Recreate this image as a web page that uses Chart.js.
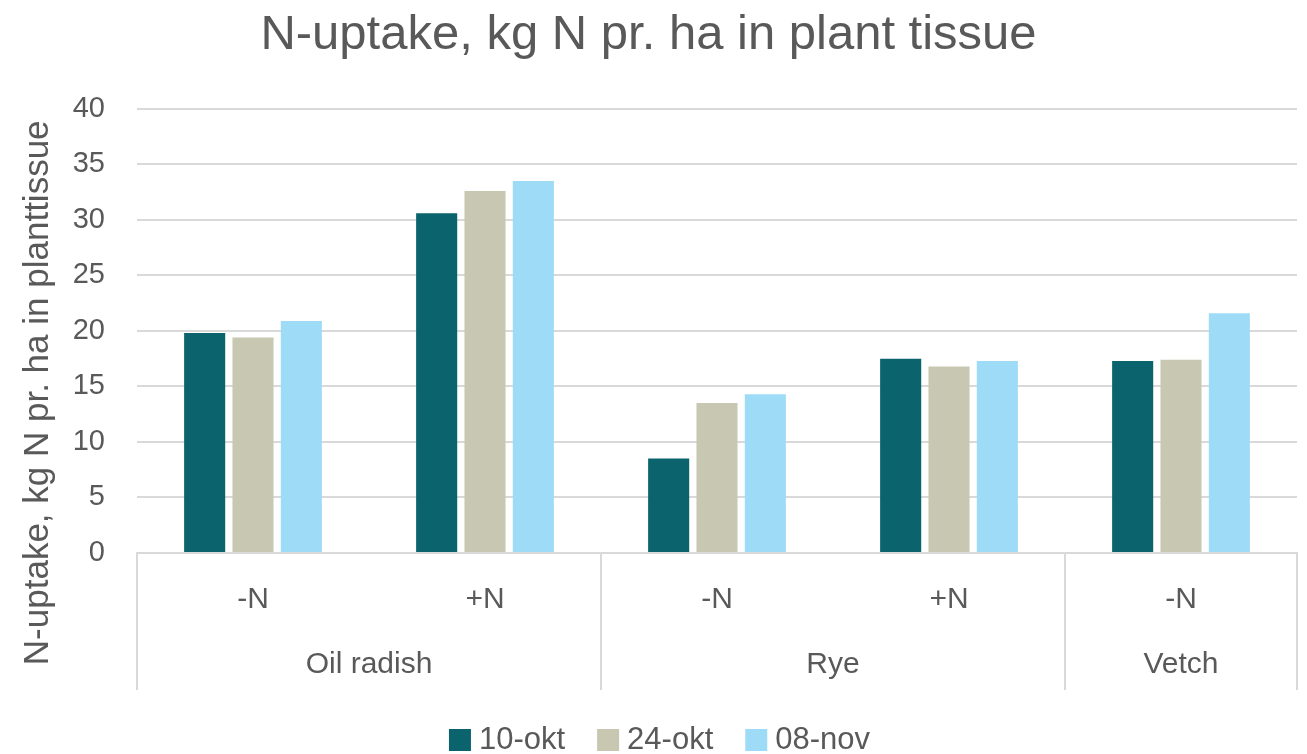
<!DOCTYPE html>
<html>
<head>
<meta charset="utf-8">
<title>N-uptake</title>
<script src="https://cdn.jsdelivr.net/npm/chart.js@4/dist/chart.umd.min.js"></script>
<style>
  html, body { margin: 0; padding: 0; background: #fff; }
  #wrap { width: 1307px; height: 754px; }
</style>
</head>
<body>
<div id="wrap"><canvas id="chart" width="1307" height="754"></canvas></div>
<script>
var categories = ["-N", "+N", "-N", "+N", "-N"];
var groups = ["Oil radish", "Rye", "Vetch"];
var groupSizes = [2, 2, 1];
var seriesNames = ["10-okt", "24-okt", "08-nov"];
var okt10 = [19.8, 30.6, 8.5, 17.5, 17.3];
var okt24 = [19.4, 32.6, 13.5, 16.8, 17.4];
var nov08 = [20.9, 33.5, 14.3, 17.3, 21.6];
var yMin = 0, yMax = 40, yStep = 5;

var FONT = "'Liberation Sans', Arial, sans-serif";
var TEXT = "#595959";
var GRID = "#d9d9d9";
var COLORS = ["#0b636e", "#c8c7b1", "#9edbf7"];

// group labels + separators under the category axis, y title and legend
var groupAxis = {
    id: "groupAxis",
    afterDraw: function (chart) {
        var ctx = chart.ctx;
        var x = chart.scales.x;
        var area = chart.chartArea;
        var w = (x.right - x.left) / categories.length;
        var bottom = area.bottom + 137;

        ctx.save();
        ctx.strokeStyle = GRID;
        ctx.lineWidth = 2;
        ctx.fillStyle = TEXT;
        ctx.textBaseline = "middle";
        var start = 0;
        var edges = [x.getPixelForValue(0) - w / 2];
        for (var g = 0; g < groups.length; g++) {
            var end = start + groupSizes[g] - 1;
            edges.push(x.getPixelForValue(end) + w / 2);
            var cx = (x.getPixelForValue(start) + x.getPixelForValue(end)) / 2;
            ctx.font = "30px " + FONT;
            ctx.textAlign = "center";
            ctx.fillText(groups[g], cx, area.bottom + 112);
            start = end + 1;
        }
        edges.forEach(function (ex) {
            ctx.beginPath();
            ctx.moveTo(ex, area.bottom);
            ctx.lineTo(ex, bottom);
            ctx.stroke();
        });

        // legend, Excel style spacing, centred on the whole canvas
        var ds = chart.data.datasets;
        var box = 22, gap = 8, itemGap = 32, ly = 740;
        ctx.font = "31px " + FONT;
        var total = 0;
        ds.forEach(function (d, i) {
            total += box + gap + ctx.measureText(d.label).width + (i ? itemGap : 0);
        });
        var lx = chart.width / 2 + 6 - total / 2;
        ctx.textAlign = "left";
        ds.forEach(function (d) {
            ctx.fillStyle = d.backgroundColor;
            ctx.fillRect(lx, ly - box / 2, box, box);
            ctx.fillStyle = TEXT;
            ctx.fillText(d.label, lx + box + gap, ly);
            lx += box + gap + ctx.measureText(d.label).width + itemGap;
        });

        // rotated y title, Excel centres it lower than the plot
        ctx.translate(38, area.top + 284);
        ctx.rotate(-Math.PI / 2);
        ctx.fillStyle = TEXT;
        ctx.font = "35px " + FONT;
        ctx.textAlign = "center";
        ctx.fillText("N-uptake, kg N pr. ha in planttissue", 0, 0);
        ctx.restore();
    }
};

new Chart(document.getElementById("chart").getContext("2d"), {
    type: "bar",
    data: {
        labels: categories,
        datasets: [
            { label: seriesNames[0], data: okt10, backgroundColor: COLORS[0] },
            { label: seriesNames[1], data: okt24, backgroundColor: COLORS[1] },
            { label: seriesNames[2], data: nov08, backgroundColor: COLORS[2] }
        ]
    },
    options: {
        responsive: false,
        animation: false,
        categoryPercentage: 0.625,
        barPercentage: 0.85,
        layout: { padding: { left: 0, right: 10, top: 0, bottom: 56 } },
        plugins: {
            title: {
                display: true,
                text: "N-uptake, kg N pr. ha in plant tissue",
                color: TEXT,
                font: { family: FONT, size: 49, weight: "normal" },
                padding: { top: 6, bottom: 44 }
            },
            legend: { display: false },
            tooltip: { enabled: false }
        },
        scales: {
            x: {
                grid: { display: false, drawTicks: false },
                border: { display: true, color: GRID, width: 2 },
                ticks: { color: TEXT, font: { family: FONT, size: 30 }, padding: 29 },
                afterFit: function (scale) { scale.height = 145; }
            },
            y: {
                min: yMin,
                max: yMax,
                grid: { color: GRID, lineWidth: 2, drawTicks: false },
                border: { display: false },
                ticks: { stepSize: yStep, color: TEXT, font: { family: FONT, size: 29 }, padding: 32 },
                afterFit: function (scale) { scale.width = 137; }
            }
        }
    },
    plugins: [groupAxis]
});
</script>
</body>
</html>
